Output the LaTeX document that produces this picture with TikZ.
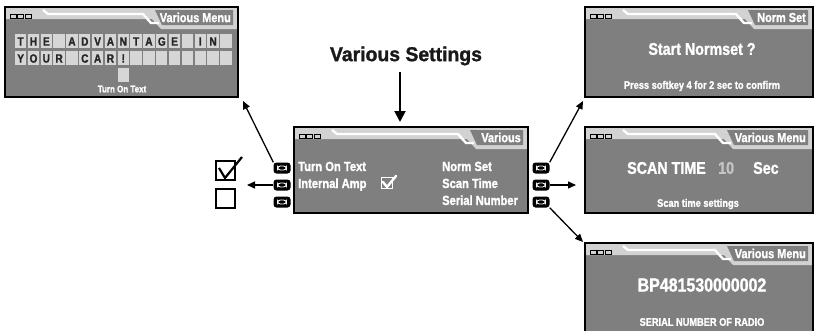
\documentclass[tikz,border=0pt]{standalone}
\usepackage{fontspec}
\setmainfont{Liberation Sans}[FakeStretch=0.84, BoldFeatures={FakeBold=1.3}]
\newfontfamily\headfont{Liberation Sans}[FakeStretch=0.97, BoldFeatures={FakeBold=1.3}]
\usetikzlibrary{arrows.meta,fit,calc}
\definecolor{lcd}{HTML}{7F7F7F}
\definecolor{band}{HTML}{D2D2D2}
\definecolor{cell}{HTML}{D6D6D6}
\definecolor{dim}{HTML}{C4C4C4}
\tikzset{
 screenbox/.style={fill=lcd, inner sep=0pt},
 titletext/.style={text=white, font=\fontsize{13}{14}\selectfont\bfseries, inner sep=0pt},
 menutext/.style={text=white, font=\fontsize{13.3}{15}\selectfont\bfseries, inner sep=0pt},
 bigtext/.style={text=white, font=\fontsize{17}{19}\selectfont\bfseries, inner sep=0pt},
 serialtext/.style={text=white, font=\fontsize{19}{21}\selectfont\bfseries, inner sep=0pt},
 smalltext/.style={text=white, font=\fontsize{11}{12}\selectfont\bfseries, inner sep=0pt},
 headtext/.style={text=black!90, font=\headfont\fontsize{20}{22}\selectfont\bfseries, inner sep=0pt},
 celltext/.style={text=black!85, font=\fontsize{12}{13}\selectfont\bfseries, inner sep=0pt},
 softkey/.style={fill=black, rounded corners=3pt, minimum width=17pt, minimum height=11pt, inner sep=0pt,
   path picture={\draw[white,line width=0.9pt] ([xshift=-4.5pt,yshift=-2pt]path picture bounding box.center) rectangle ([xshift=4.5pt,yshift=2pt]path picture bounding box.center);}},
 chkbox/.style={draw=black, line width=2pt, minimum size=19pt, inner sep=0pt},
 arr/.style={line width=1.3pt, -{Triangle[length=8pt,width=7pt]}},
 bigarr/.style={line width=2pt, -{Triangle[length=11pt,width=11pt]}}
}
\newcommand\lcdscreen[7]{%
  \coordinate (#1-nw) at (#2,#3);
  \coordinate (#1-se) at (#4,#5);
  \node[screenbox, fit=(#1-nw)(#1-se)] (#1) {};
  \fill[band] (#2,#3) -- (#4,#3) -- (#4,{#3+22}) -- ({#4-#7-2},{#3+22}) -- ({#4-#7-11},{#3+12}) -- (#2,{#3+12}) -- cycle;
  \draw[white, line width=2.4pt] ({#2+38},{#3+3}) -- ({#2+43},{#3+7}) -- ({#4-#7-20},{#3+7}) -- ({#4-#7-12},{#3+16}) -- ({#4-#7-4},{#3+16});
  \fill[lcd] ({#4-#7-8},{#3+3}) -- ({#4-5},{#3+3}) -- ({#4-5},{#3+18}) -- ({#4-#7-1},{#3+18}) -- cycle;
  \node[titletext, anchor=east] (#1-title) at ({#4-7},{#3+10.5}) {#6};
  \foreach \i in {0,1,2} \draw[black, line width=0.9pt, fill=band] ({#2+5+\i*7.5},{#3+7}) rectangle ++(6,4.5);
  \draw[line width=2pt] (#1-nw) rectangle (#1-se);
}
\begin{document}
\begin{tikzpicture}[x=1pt,y=-1pt]
\useasboundingbox[fill=white] (0,0) rectangle (815,330);

% ---- top-left screen: turn on text
\lcdscreen{tl}{5}{7}{238}{97}{Various Menu}{75}
\foreach \k in {0,...,16} {
  \fill[cell] ({15+\k*12.83},34) rectangle ++(11.3,14);
  \fill[cell] ({15+\k*12.83},51) rectangle ++(11.3,14);
}
\fill[cell] ({15+8*12.83},68) rectangle ++(11.3,14);
\foreach \k/\c in {0/T,1/H,2/E,4/A,5/D,6/V,7/A,8/N,9/T,10/A,11/G,12/E,14/I,15/N}
  \node[celltext] (ra\k) at ({15+\k*12.83+5.65},41.5) {\c};
\foreach \k/\c in {0/Y,1/O,2/U,3/R,5/C,6/A,7/R,8/!}
  \node[celltext] (rb\k) at ({15+\k*12.83+5.65},58.5) {\c};
\node[smalltext, font=\fontsize{9.5}{10}\selectfont\bfseries] (tlcap) at (122,89) {Turn On Text};

% ---- top-right screen: norm set
\lcdscreen{tr}{585}{7}{813}{97}{Norm Set}{57}
\node[bigtext] (trmain) at (702,49) {Start Normset ?};
\node[smalltext] (trcap) at (702,86) {Press softkey 4 for 2 sec to confirm};

% ---- center screen
\node[headtext] (vs) at (406,56) {Various Settings};
\lcdscreen{ctr}{294}{127}{528}{213}{Various}{50}
\node[menutext, anchor=base west] (m1) at (298,171) {Turn On Text};
\node[menutext, anchor=base west] (m2) at (298,188) {Internal Amp};
\node[menutext, anchor=base west] (m3) at (442,171) {Norm Set};
\node[menutext, anchor=base west] (m4) at (442,188) {Scan Time};
\node[menutext, anchor=base west] (m5) at (442,205) {Serial Number};
\node[draw=white, line width=1.6pt, minimum size=11pt, inner sep=0pt] (ampbox) at (387,183) {};
\draw[white, line width=2.4pt, line cap=round, line join=round] ($(ampbox.center)+(-4,-1)$) -- ($(ampbox.center)+(0,4)$) -- ($(ampbox.center)+(9,-7)$);

% ---- middle-right screen: scan time
\lcdscreen{mr}{585}{127}{813}{213}{Various Menu}{78}
\node[bigtext, anchor=west] (scan) at (627,168) {SCAN TIME};
\node[bigtext, text=dim, anchor=west] (scanval) at (718,168) {10};
\node[bigtext, anchor=west] (scanunit) at (753,168) {Sec};
\node[smalltext] (mrcap) at (698,204) {Scan time settings};

% ---- bottom-right screen: serial number
\lcdscreen{br}{585}{243}{813}{336}{Various Menu}{78}
\node[serialtext] (serial) at (702,285) {BP481530000002};
\node[smalltext] (brcap) at (702,322) {SERIAL NUMBER OF RADIO};

% ---- softkeys
\node[softkey] (kl1) at (282,168) {};
\node[softkey] (kl2) at (282,185) {};
\node[softkey] (kl3) at (282,202) {};
\node[softkey] (kr1) at (541,168) {};
\node[softkey] (kr2) at (541,185) {};
\node[softkey] (kr3) at (541,202) {};

% ---- checkboxes
\node[chkbox] (cbon) at (225,170) {};
\node[chkbox] (cboff) at (225,198) {};
\draw[line width=2.2pt, line join=miter] ($(cbon.center)+(-6,-2)$) -- ($(cbon.center)+(0,8)$) -- ($(cbon.center)+(17,-13)$);

% ---- arrows
\coordinate (vsA) at (400,72);
\coordinate (vsB) at (400,122);
\coordinate (tlA) at (243,101);
\coordinate (cbA) at (247,185);
\coordinate (trA) at (583,101);
\coordinate (mrA) at (576,185);
\coordinate (brA) at (583,242);
\draw[bigarr] (vsA) -- (vsB);
\draw[arr] (kl1.north west) -- (tlA);
\draw[arr] (kl2.west) -- (cbA);
\draw[arr] (kr1.north east) -- (trA);
\draw[arr] (kr2.east) -- (mrA);
\draw[arr] (kr3.south east) -- (brA);
\end{tikzpicture}
\end{document}
